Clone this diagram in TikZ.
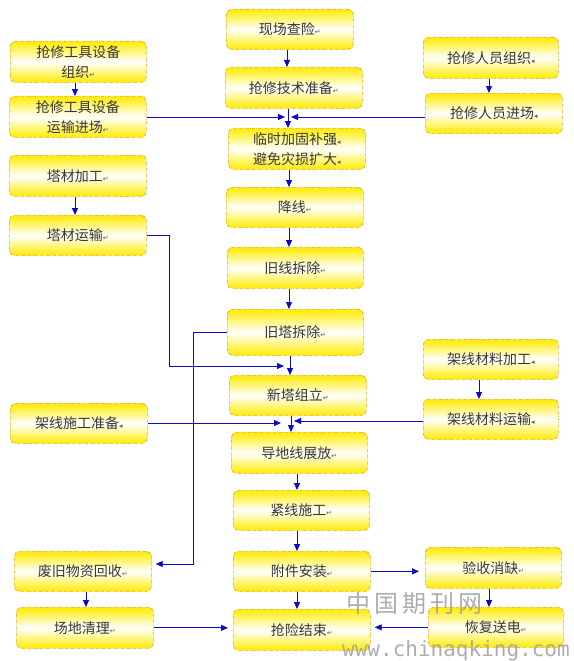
\documentclass[tikz,border=0pt]{standalone}
\usepackage{fontspec}
\setmainfont{Noto Sans CJK SC}
\newfontfamily\dejavu{DejaVu Sans}
\newfontfamily\wmmono{DejaVu Sans Mono}
\usetikzlibrary{arrows.meta}
\definecolor{boxyellow}{RGB}{255,236,0}
\definecolor{boxedge}{RGB}{230,165,20}
\definecolor{linkblue}{RGB}{10,10,200}
\definecolor{txt}{RGB}{55,55,55}
\newcommand\retmark{{\dejavu\fontsize{7}{7}\selectfont\color{txt!80}↵}}
\newcommand\tinymark{{\dejavu\fontsize{7}{7}\selectfont\color{txt!80}◂}}
\tikzset{
  box/.style={draw=boxedge, line width=0.7pt,
    dash pattern=on 3pt off 1.2pt on 0.8pt off 1.2pt,
    rounded corners=5pt, top color=boxyellow, bottom color=boxyellow,
    middle color=white, inner sep=0pt, anchor=north west,
    font=\fontsize{14}{20}\selectfont, text=txt, align=center},
  arr/.style={-{Triangle[length=7pt,width=6pt]}, line width=0.9pt, draw=linkblue},
  lnk/.style={line width=0.9pt, draw=linkblue},
  wm/.style={text=gray!75, opacity=0.85, inner sep=0pt}
}
\begin{document}
\begin{tikzpicture}[x=1pt,y=-1pt]
\useasboundingbox (0,0) rectangle (573,661);
% left column
\node[box, minimum width=136pt, minimum height=41pt] (A1) at (10,41) {抢修工具设备\\组织\retmark};
\node[box, minimum width=137pt, minimum height=41pt] (A2) at (9,96) {抢修工具设备\\运输进场\retmark};
\node[box, minimum width=137pt, minimum height=41pt] (B1) at (9,155) {塔材加工\retmark};
\node[box, minimum width=137pt, minimum height=40pt] (B2) at (9,215) {塔材运输\retmark};
\node[box, minimum width=137pt, minimum height=40pt] (C) at (10,403) {架线施工准备\tinymark};
\node[box, minimum width=137pt, minimum height=40pt] (D1) at (14,551) {废旧物资回收\retmark};
\node[box, minimum width=137pt, minimum height=41pt] (D2) at (16,607) {场地清理\retmark};
% center column
\node[box, minimum width=127pt, minimum height=40pt] (M1) at (226,9) {现场查险\retmark};
\node[box, minimum width=137pt, minimum height=41pt] (M2) at (225,67) {抢修技术准备\retmark};
\node[box, minimum width=137pt, minimum height=41pt] (M3) at (228,128) {临时加固补强\tinymark\\避免灾损扩大\tinymark};
\node[box, minimum width=137pt, minimum height=40pt] (M4) at (226,187) {降线\retmark};
\node[box, minimum width=136pt, minimum height=41pt] (M5) at (227,247) {旧线拆除\retmark};
\node[box, minimum width=136pt, minimum height=46pt] (M6) at (227,309) {旧塔拆除\retmark};
\node[box, minimum width=137pt, minimum height=40pt] (M7) at (229,375) {新塔组立\retmark};
\node[box, minimum width=136pt, minimum height=41pt] (M8) at (231,432) {导地线展放\retmark};
\node[box, minimum width=136pt, minimum height=40pt] (M9) at (233,490) {紧线施工\retmark};
\node[box, minimum width=137pt, minimum height=40pt] (M10) at (233,551) {附件安装\retmark};
\node[box, minimum width=137pt, minimum height=41pt] (M11) at (233,609) {抢险结束\retmark};
% right column
\node[box, minimum width=135pt, minimum height=41pt] (R1) at (423,37) {抢修人员组织\tinymark};
\node[box, minimum width=137pt, minimum height=40pt] (R2) at (425,93) {抢修人员进场\tinymark};
\node[box, minimum width=135pt, minimum height=40pt] (R3) at (423,339) {架线材料加工\tinymark};
\node[box, minimum width=135pt, minimum height=40pt] (R4) at (423,399) {架线材料运输\tinymark};
\node[box, minimum width=136pt, minimum height=41pt] (R5) at (425,547) {验收消缺\retmark};
\node[box, minimum width=135pt, minimum height=40pt] (R6) at (428,607) {恢复送电\retmark};
% junction points
\coordinate (jA) at (285,117);
\coordinate (jB) at (291,117);
\coordinate (jC) at (284,366);
\coordinate (jD) at (281,423);
\coordinate (jE) at (294,421);
% vertical arrows
\draw[arr] (A1.south -| 75,0) -- (A2.north -| 75,0);
\draw[arr] (B1.south -| 75,0) -- (B2.north -| 75,0);
\draw[arr] (D1.south -| 86,0) -- (D2.north -| 86,0);
\draw[arr] (M1.south -| 287,0) -- (M2.north -| 287,0);
\draw[arr] (M2.south -| 288,0) -- (M3.north -| 288,0);
\draw[arr] (M3.south -| 289,0) -- (M4.north -| 289,0);
\draw[arr] (M4.south -| 289,0) -- (M5.north -| 289,0);
\draw[arr] (M5.south -| 289,0) -- (M6.north -| 289,0);
\draw[arr] (M6.south -| 290,0) -- (M7.north -| 290,0);
\draw[arr] (M7.south -| 291,0) -- (M8.north -| 291,0);
\draw[arr] (M8.south -| 297,0) -- (M9.north -| 297,0);
\draw[arr] (M9.south -| 297,0) -- (M10.north -| 297,0);
\draw[arr] (M10.south -| 297,0) -- (M11.north -| 297,0);
\draw[arr] (R1.south -| 489,0) -- (R2.north -| 489,0);
\draw[arr] (R3.south -| 479,0) -- (R4.north -| 479,0);
\draw[arr] (R5.south -| 489,0) -- (R6.north -| 489,0);
% horizontal feeds
\draw[arr] (A2.east |- jA) -- (jA);
\draw[arr] (R2.west |- jB) -- (jB);
\draw[arr] (B2.east) -| (169,366) -- (jC);
\draw[arr] (C.east |- jD) -- (jD);
\draw[arr] (R4.west |- jE) -- (jE);
\draw[arr, shorten >=4pt] (M6.west) -| (193,564) -- (D1.east |- 193,564);
\draw[arr, shorten >=5pt] (D2.east) -- (M11.west |- D2.east);
\draw[arr, shorten >=6pt] (M10.east) -- (R5.west |- M10.east);
\draw[arr, shorten >=4pt] (R6.west) -- (M11.east |- R6.west);
% watermark
\node[wm, font=\fontsize{24}{24}\selectfont, anchor=west] (wm1) at (346,603) {中\,国\,期\,刊\,网};
\node[wm, font=\wmmono\fontsize{21}{21}\selectfont, anchor=west] (wm2) at (342,651) {www.chinaqking.com};
\end{tikzpicture}
\end{document}
